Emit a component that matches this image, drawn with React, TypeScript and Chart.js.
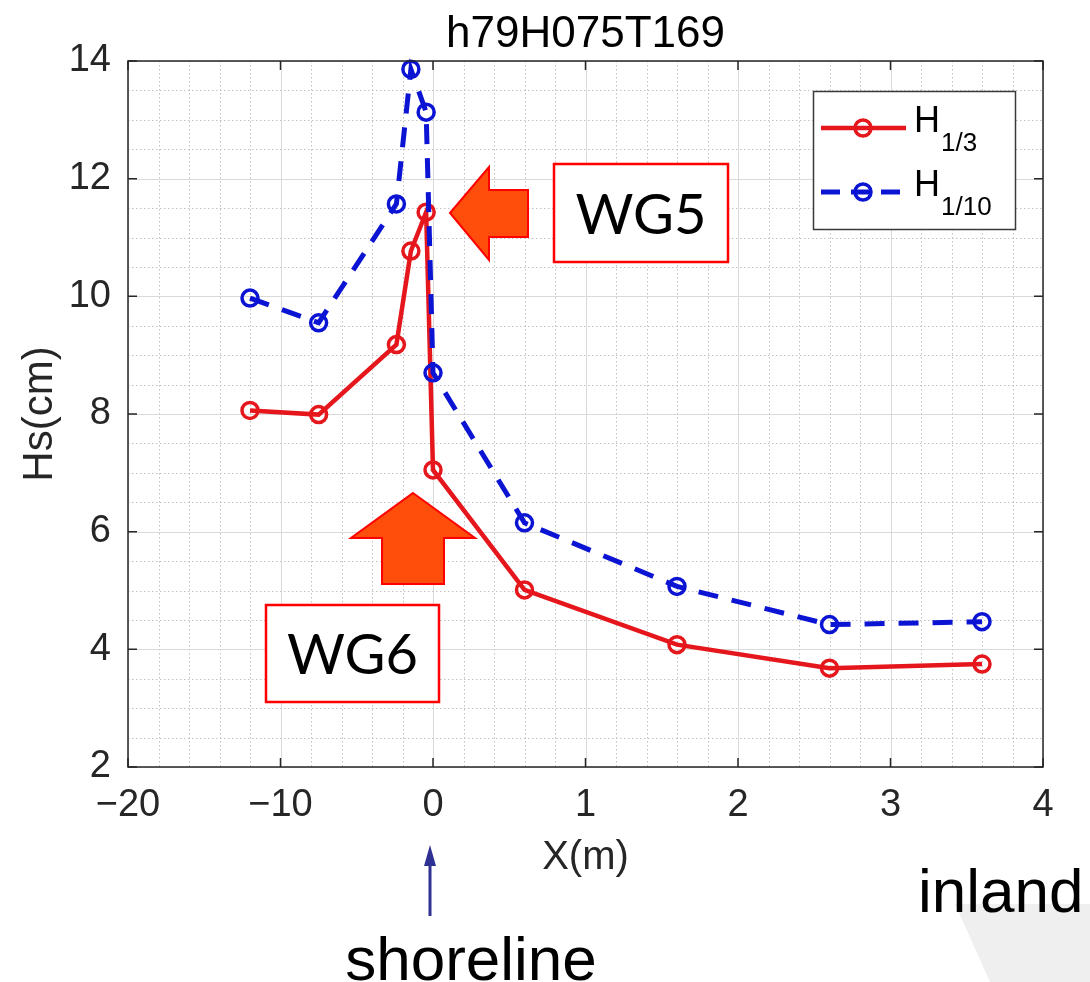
import React, { useEffect, useRef } from 'react';
import { Chart, registerables } from 'chart.js';

Chart.register(...registerables);

// ---- data ----
const X_POSITIONS = [-12, -7.5, -2.4, -1.45, -0.45, 0, 0.6, 1.6, 2.6, 3.6];
const H_ONE_THIRD = [8.06, 7.99, 9.18, 10.77, 11.43, 7.05, 5.01, 4.08, 3.68, 3.75];
const H_ONE_TENTH = [9.97, 9.55, 11.57, 13.86, 13.13, 8.7, 6.15, 5.07, 4.42, 4.47];
const X_TICKS = [-20, -10, 0, 1, 2, 3, 4];
const X_TICK_LABELS = ['−20', '−10', '0', '1', '2', '3', '4'];
const Y_TICKS = [2, 4, 6, 8, 10, 12, 14];
const SERIES_SUBSCRIPTS = ['1/3', '1/10'];
const TITLE = 'h79H075T169';
const X_LABEL = 'X(m)';
const Y_LABEL = 'Hs(cm)';

// the offshore side (x < 0) is drawn compressed ten times
const toAxis = (x: number) => (x < 0 ? x / 10 : x);

const RED = '#e5161c';
const BLUE = '#0c14d4';
const ARROW_FILL = '#ff4d0c';
const FONT = '"Liberation Sans", Arial, sans-serif';
const BOX_FONT = 'Lato, "Open Sans", sans-serif';

function drawMarker(ctx: CanvasRenderingContext2D, x: number, y: number, color: string) {
  ctx.save();
  ctx.setLineDash([]);
  ctx.strokeStyle = color;
  ctx.lineWidth = 3.5;
  ctx.beginPath();
  ctx.arc(x, y, 8, 0, Math.PI * 2);
  ctx.stroke();
  ctx.restore();
}

function drawLabelBox(ctx: CanvasRenderingContext2D, x1: number, y1: number, x2: number, y2: number, text: string) {
  ctx.save();
  ctx.fillStyle = '#ffffff';
  ctx.fillRect(x1, y1, x2 - x1, y2 - y1);
  ctx.strokeStyle = '#ff0000';
  ctx.lineWidth = 2.5;
  ctx.strokeRect(x1, y1, x2 - x1, y2 - y1);
  ctx.fillStyle = '#000000';
  ctx.font = `56px ${BOX_FONT}`;
  ctx.textAlign = 'center';
  ctx.textBaseline = 'alphabetic';
  ctx.fillText(text, (x1 + x2) / 2, (y1 + y2) / 2 + 20.5);
  ctx.restore();
}

function fillPoly(ctx: CanvasRenderingContext2D, pts: number[][], fill: string, stroke?: string) {
  ctx.save();
  ctx.beginPath();
  pts.forEach(([x, y], i) => (i === 0 ? ctx.moveTo(x, y) : ctx.lineTo(x, y)));
  ctx.closePath();
  ctx.fillStyle = fill;
  ctx.fill();
  if (stroke) {
    ctx.strokeStyle = stroke;
    ctx.lineWidth = 2;
    ctx.lineJoin = 'miter';
    ctx.stroke();
  }
  ctx.restore();
}

const matlabPlugin = {
  id: 'matlabLook',
  beforeDatasetsDraw(chart: any) {
    const { ctx, chartArea: a } = chart;
    const xs = chart.scales.x;
    const ys = chart.scales.y;
    ctx.save();
    // minor dotted grid
    ctx.lineWidth = 1;
    ctx.strokeStyle = '#c2c2c2';
    ctx.setLineDash([1.5, 2.5]);
    ctx.beginPath();
    for (let k = -10; k <= 20; k++) {
      if (k % 5 === 0) continue;
      const px = Math.round(xs.getPixelForValue(k / 5)) + 0.5;
      ctx.moveTo(px, a.top);
      ctx.lineTo(px, a.bottom);
    }
    for (let k = 4; k <= 28; k++) {
      if (k % 4 === 0) continue;
      const py = Math.round(ys.getPixelForValue(k / 2)) + 0.5;
      ctx.moveTo(a.left, py);
      ctx.lineTo(a.right, py);
    }
    ctx.stroke();
    // major solid grid
    ctx.setLineDash([]);
    ctx.strokeStyle = '#dadada';
    ctx.beginPath();
    xs.ticks.forEach((t: any) => {
      const px = Math.round(xs.getPixelForValue(t.value)) + 0.5;
      ctx.moveTo(px, a.top);
      ctx.lineTo(px, a.bottom);
    });
    ys.ticks.forEach((t: any) => {
      const py = Math.round(ys.getPixelForValue(t.value)) + 0.5;
      ctx.moveTo(a.left, py);
      ctx.lineTo(a.right, py);
    });
    ctx.stroke();
    ctx.restore();
  },
  afterDatasetsDraw(chart: any) {
    const { ctx, chartArea: a } = chart;
    const xs = chart.scales.x;
    const ys = chart.scales.y;
    ctx.save();
    ctx.strokeStyle = '#262626';
    ctx.lineWidth = 1.5;
    ctx.setLineDash([]);
    ctx.strokeRect(a.left, a.top, a.right - a.left, a.bottom - a.top);
    const tl = 9;
    ctx.beginPath();
    xs.ticks.forEach((t: any) => {
      const px = xs.getPixelForValue(t.value);
      ctx.moveTo(px, a.bottom);
      ctx.lineTo(px, a.bottom - tl);
      ctx.moveTo(px, a.top);
      ctx.lineTo(px, a.top + tl);
    });
    ys.ticks.forEach((t: any) => {
      const py = ys.getPixelForValue(t.value);
      ctx.moveTo(a.left, py);
      ctx.lineTo(a.left + tl, py);
      ctx.moveTo(a.right, py);
      ctx.lineTo(a.right - tl, py);
    });
    ctx.stroke();
    ctx.restore();
  },
  afterDraw(chart: any) {
    const { ctx, chartArea: a } = chart;
    ctx.save();
    // title
    ctx.fillStyle = '#000000';
    ctx.font = `44px ${FONT}`;
    ctx.textAlign = 'center';
    ctx.textBaseline = 'alphabetic';
    ctx.fillText(TITLE, (a.left + a.right) / 2, 47);

    // legend
    const lx = 813, ly = 91, lw = 202, lh = 138;
    ctx.fillStyle = '#ffffff';
    ctx.fillRect(lx, ly, lw, lh);
    ctx.strokeStyle = '#3a3a3a';
    ctx.lineWidth = 1.5;
    ctx.strokeRect(lx + 0.5, ly + 0.5, lw, lh);
    const rows = [
      { y: 128, color: RED, dash: [] as number[], width: 4.5 },
      { y: 192, color: BLUE, dash: [19, 11], width: 5 },
    ];
    rows.forEach((r, i) => {
      ctx.save();
      ctx.strokeStyle = r.color;
      ctx.lineWidth = r.width;
      ctx.setLineDash(r.dash);
      ctx.beginPath();
      ctx.moveTo(821, r.y);
      ctx.lineTo(906, r.y);
      ctx.stroke();
      ctx.restore();
      drawMarker(ctx, 863, r.y, r.color);
      ctx.fillStyle = '#000000';
      ctx.textAlign = 'left';
      ctx.font = `36px ${FONT}`;
      ctx.fillText('H', 914, r.y + 4);
      ctx.font = `26px ${FONT}`;
      ctx.fillText(SERIES_SUBSCRIPTS[i], 941, r.y + 23);
    });

    // WG5 arrow (pointing left) and box
    fillPoly(ctx, [[450, 213], [489, 167], [489, 190], [528, 190], [528, 237], [489, 237], [489, 260]], ARROW_FILL, '#ff0000');
    drawLabelBox(ctx, 554, 164, 728, 262, 'WG5');
    // WG6 arrow (pointing up) and box
    fillPoly(ctx, [[413, 493], [475, 538], [444, 538], [444, 584], [382, 584], [382, 538], [351, 538]], ARROW_FILL, '#ff0000');
    drawLabelBox(ctx, 266, 605, 439, 702, 'WG6');

    // shoreline arrow
    const sx = chart.scales.x.getPixelForValue(0) - 3;
    ctx.strokeStyle = '#2e3192';
    ctx.lineWidth = 3;
    ctx.beginPath();
    ctx.moveTo(sx, 916);
    ctx.lineTo(sx, 860);
    ctx.stroke();
    fillPoly(ctx, [[sx, 845], [sx + 6, 866], [sx - 6, 866]], '#2e3192');

    // inland background shape and texts
    fillPoly(ctx, [[955, 904], [1090, 904], [1090, 982], [990, 982]], '#efefef');
    ctx.fillStyle = '#000000';
    ctx.font = `62px ${FONT}`;
    ctx.textAlign = 'center';
    ctx.fillText('shoreline', 471, 980);
    ctx.textAlign = 'left';
    ctx.fillText('inland', 918, 912);
    ctx.restore();
  },
};

export default function App() {
  const canvasRef = useRef<HTMLCanvasElement | null>(null);

  useEffect(() => {
    if (!canvasRef.current) return;
    const chart = new Chart(canvasRef.current, {
      type: 'line',
      data: {
        datasets: [
          {
            label: 'H1/3',
            data: X_POSITIONS.map((x, i) => ({ x: toAxis(x), y: H_ONE_THIRD[i] })),
            borderColor: RED,
            borderWidth: 4.5,
            pointRadius: 8,
            pointHoverRadius: 8,
            pointBorderWidth: 3.5,
            pointBorderColor: RED,
            pointBackgroundColor: 'rgba(0,0,0,0)',
            tension: 0,
            clip: false as any,
            order: 1,
          },
          {
            label: 'H1/10',
            data: X_POSITIONS.map((x, i) => ({ x: toAxis(x), y: H_ONE_TENTH[i] })),
            borderColor: BLUE,
            borderWidth: 5,
            borderDash: [20, 14],
            pointRadius: 8,
            pointHoverRadius: 8,
            pointBorderWidth: 3.5,
            pointBorderColor: BLUE,
            pointBackgroundColor: 'rgba(0,0,0,0)',
            tension: 0,
            clip: false as any,
            order: 0,
          },
        ],
      },
      options: {
        animation: false,
        responsive: false,
        devicePixelRatio: 1,
        events: [],
        layout: { padding: { top: 61, right: 47, left: 0, bottom: 0 } },
        plugins: {
          legend: { display: false },
          tooltip: { enabled: false },
          title: { display: false },
        },
        scales: {
          x: {
            type: 'linear',
            min: toAxis(X_TICKS[0]),
            max: toAxis(X_TICKS[X_TICKS.length - 1]),
            afterBuildTicks: (s: any) => {
              s.ticks = X_TICKS.map((v) => ({ value: toAxis(v) }));
            },
            afterFit: (s: any) => {
              s.height = 215;
            },
            grid: { display: false, drawTicks: false },
            border: { display: false },
            ticks: {
              autoSkip: false,
              maxRotation: 0,
              padding: 16,
              color: '#262626',
              font: { family: FONT, size: 38 },
              callback: (_v: any, i: number) => X_TICK_LABELS[i],
            },
            title: {
              display: true,
              text: X_LABEL,
              color: '#262626',
              font: { family: FONT, size: 40 },
              padding: { top: 0, bottom: 100 },
            },
          },
          y: {
            type: 'linear',
            min: Y_TICKS[0],
            max: Y_TICKS[Y_TICKS.length - 1],
            afterBuildTicks: (s: any) => {
              s.ticks = Y_TICKS.map((v) => ({ value: v }));
            },
            afterFit: (s: any) => {
              s.width = 128;
            },
            grid: { display: false, drawTicks: false },
            border: { display: false },
            ticks: {
              padding: 17,
              color: '#262626',
              font: { family: FONT, size: 38 },
            },
            title: {
              display: true,
              text: Y_LABEL,
              color: '#262626',
              font: { family: FONT, size: 42 },
              padding: { top: 15, bottom: 0 },
            },
          },
        },
      },
      plugins: [matlabPlugin],
    } as any);
    return () => chart.destroy();
  }, []);

  return (
    <div style={{ position: 'absolute', left: 0, top: 0, width: 1090, height: 982, background: '#ffffff' }}>
      <canvas ref={canvasRef} width={1090} height={982} style={{ display: 'block' }} />
    </div>
  );
}
